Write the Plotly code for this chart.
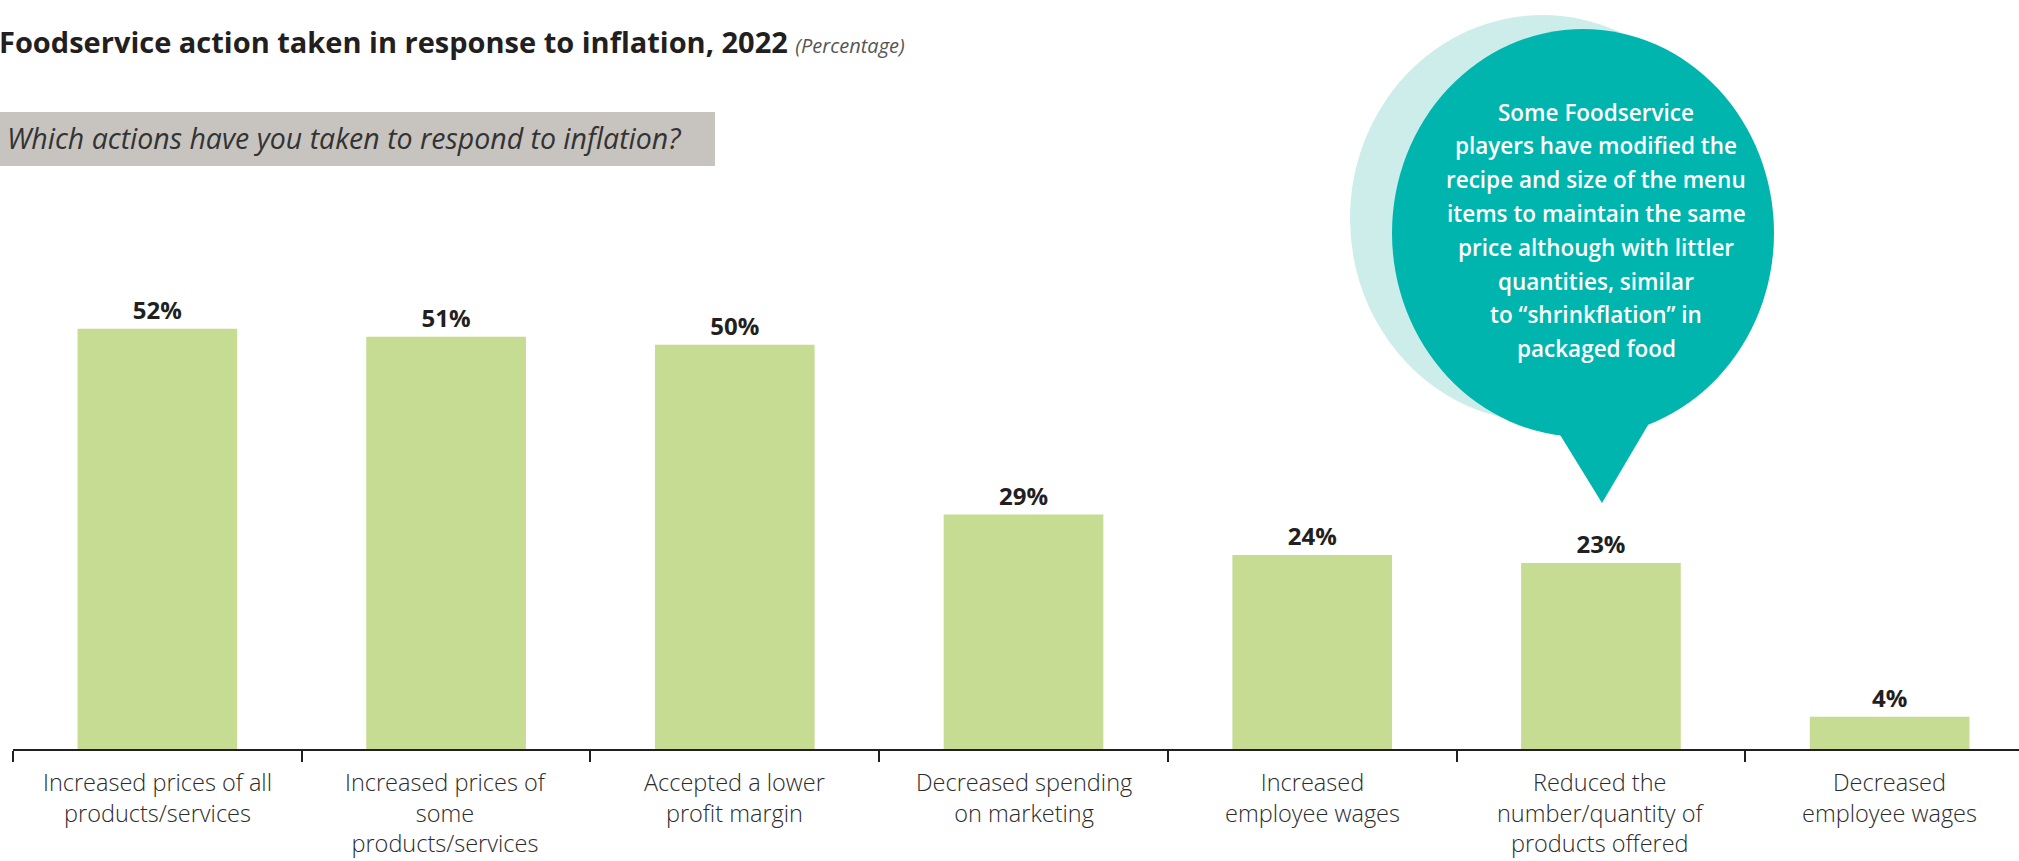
import plotly.graph_objects as go

# ---------------- data ----------------
categories = [
    "Increased prices of all products/services",
    "Increased prices of some products/services",
    "Accepted a lower profit margin",
    "Decreased spending on marketing",
    "Increased employee wages",
    "Reduced the number/quantity of products offered",
    "Decreased employee wages",
]
tick_labels = [
    ["Increased prices of all", "products/services"],
    ["Increased prices of", "some", "products/services"],
    ["Accepted a lower", "profit margin"],
    ["Decreased spending", "on marketing"],
    ["Increased", "employee wages"],
    ["Reduced the", "number/quantity of", "products offered"],
    ["Decreased", "employee wages"],
]
values = [52, 51, 50, 29, 24, 23, 4]

title_text = "Foodservice action taken in response to inflation, 2022"
unit_text = "(Percentage)"
question_text = "Which actions have you taken to respond to inflation?"
callout_lines = [
    "Some Foodservice",
    "players have modified the",
    "recipe and size of the menu",
    "items to maintain the same",
    "price although with littler",
    "quantities, similar",
    "to \u201cshrinkflation\u201d in",
    "packaged food",
]

# ---------------- style ----------------
W, H = 2019, 861
L, R, T, B = 13, 0, 264, 112
PW = W - L - R
PH = H - T - B
AXIS_Y = H - B  # pixel y of baseline

BAR = "#C6DC92"
DARK = "#231F20"
TEAL = "#00B5AE"
LIGHT = "#CDEDEB"
GREY = "#C7C3BF"
FONT = "Open Sans"


def px(x):
    return (x - L) / PW


def py(y):
    return (AXIS_Y - y) / PH


fig = go.Figure(
    go.Bar(
        x=categories,
        y=values,
        width=0.553,
        marker=dict(color=BAR, line=dict(width=0)),
        text=[f"{v}%" for v in values],
        textposition="outside",
        textfont=dict(family=FONT, size=24, color=DARK, weight="bold"),
        cliponaxis=False,
        hoverinfo="skip",
    )
)

fig.update_xaxes(
    type="category",
    range=[-0.5, 6.448],
    showline=True,
    linecolor=DARK,
    linewidth=2,
    ticks="outside",
    tickson="boundaries",
    ticklen=11,
    tickwidth=1.5,
    tickcolor=DARK,
    showticklabels=False,
    showgrid=False,
    zeroline=False,
)
fig.update_yaxes(range=[0, 60], visible=False)

annotations = []
# category labels
LABEL_SIZE = 23.5
LABEL_TOP = 765
for i, lines in enumerate(tick_labels):
    annotations.append(dict(
        x=categories[i], xref="x", y=py(LABEL_TOP), yref="paper",
        text="<br>".join(lines), showarrow=False, xanchor="center", yanchor="top",
        align="center", borderpad=0,
        font=dict(family=FONT, size=LABEL_SIZE, color="#2B2B2B", weight=300),
    ))

# title
annotations.append(dict(
    x=px(-2), xref="paper", y=py(41), yref="paper",
    text=(f"<b>{title_text}</b> "
          f"<span style='font-size:20px;font-style:italic;color:#555555'>{unit_text}</span>"),
    showarrow=False, xanchor="left", yanchor="middle", borderpad=0,
    font=dict(family=FONT, size=29, color=DARK),
))

# question in grey box
annotations.append(dict(
    x=px(5), xref="paper", y=py(138), yref="paper",
    text=f"<i>{question_text}</i>",
    showarrow=False, xanchor="left", yanchor="middle",
    font=dict(family=FONT, size=28.5, color="#333333"),
))

# callout text
CX, CY0, CSP = 1596, 112, 33.8
for j, ln in enumerate(callout_lines):
    annotations.append(dict(
        x=px(CX), xref="paper", y=py(CY0 + j * CSP), yref="paper",
        text=ln, showarrow=False, xanchor="center", yanchor="middle",
        font=dict(family=FONT, size=22.5, color="white", weight=600),
    ))

shapes = [
    # grey question box
    dict(type="rect", xref="paper", yref="paper",
         x0=px(0), x1=px(715), y0=py(166), y1=py(112),
         fillcolor=GREY, line=dict(width=0), layer="below"),
    # light back bubble
    dict(type="circle", xref="paper", yref="paper",
         x0=px(1350), x1=px(1735), y0=py(422), y1=py(15),
         fillcolor=LIGHT, line=dict(width=0), layer="above"),
    # teal bubble
    dict(type="circle", xref="paper", yref="paper",
         x0=px(1392), x1=px(1774), y0=py(437), y1=py(29),
         fillcolor=TEAL, line=dict(width=0), layer="above"),
    # tail
    dict(type="path", xref="paper", yref="paper",
         path=(f"M {px(1554)} {py(425)} L {px(1602)} {py(503)} "
               f"L {px(1648)} {py(425)} Z"),
         fillcolor=TEAL, line=dict(width=0), layer="above"),
]

fig.update_layout(
    width=W, height=H,
    margin=dict(l=L, r=R, t=T, b=B, pad=0),
    paper_bgcolor="white", plot_bgcolor="white",
    showlegend=False,
    bargap=0.447,
    annotations=annotations,
    shapes=shapes,
    font=dict(family=FONT, color=DARK),
)

fig.write_html("out.html", config={"displayModeBar": False})
